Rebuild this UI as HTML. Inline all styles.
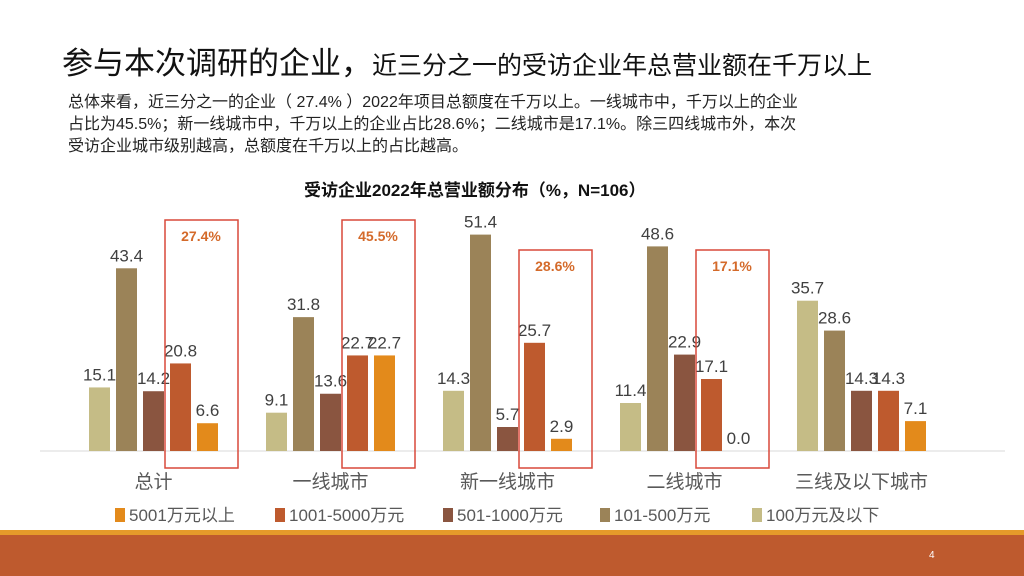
<!DOCTYPE html>
<html><head><meta charset="utf-8"><style>
body{margin:0;width:1024px;height:576px;overflow:hidden;background:#fff;font-family:"Liberation Sans","Noto Sans CJK SC",sans-serif;position:relative}
.t{position:absolute;white-space:nowrap}
</style></head><body>
<div class="t" style="left:62px;top:38px;font-size:31px;color:#111">参与本次调研的企业，<span style="font-size:25px">近三分之一的受访企业年总营业额在千万以上</span></div>
<div class="t" style="left:68px;top:92px;font-size:16px;line-height:22px;color:#222">总体来看，近三分之一的企业（ 27.4% ）2022年项目总额度在千万以上。一线城市中，千万以上的企业<br>占比为45.5%；新一线城市中，千万以上的企业占比28.6%；二线城市是17.1%。除三四线城市外，本次<br>受访企业城市级别越高，总额度在千万以上的占比越高。</div>
<div class="t" style="left:304px;top:176px;font-size:17px;color:#111;font-weight:bold">受访企业2022年总营业额分布（%，N=106）</div>
<svg id="c" width="1024" height="576" style="position:absolute;left:0;top:0"></svg>
<div style="position:absolute;left:0;top:530px;width:1024px;height:5px;background:#E59A2A"></div>
<div style="position:absolute;left:0;top:535px;width:1024px;height:41px;background:#BE5A2E"></div>
<div class="t" style="left:929px;top:550px;font-size:10px;color:#fff">4</div>
<script>
const categories=["总计","一线城市","新一线城市","二线城市","三线及以下城市"];
const seriesNames=["100万元及以下","101-500万元","501-1000万元","1001-5000万元","5001万元以上"];
const s100=[15.1,9.1,14.3,11.4,35.7];
const s500=[43.4,31.8,51.4,48.6,28.6];
const s1000=[14.2,13.6,5.7,22.9,14.3];
const s5000=[20.8,22.7,25.7,17.1,14.3];
const s5001=[6.6,22.7,2.9,0.0,7.1];
const highlight=["27.4%","45.5%","28.6%","17.1%",null];
const colors=["#C5BC86","#9B8358","#8A5540","#BE5A2E","#E38A1B"];
const boxTops=[220,220,250,250];
const series=[s100,s500,s1000,s5000,s5001];
const NS="http://www.w3.org/2000/svg",svg=document.getElementById('c');
const base=451,k=4.21,x0=65,cw=177,bw=21,step=27;
const y=v=>base-v*k;
const cx=i=>x0+cw*(i+0.5);
function mk(t,a){const e=document.createElementNS(NS,t);for(const n in a)e.setAttribute(n,a[n]);svg.appendChild(e);return e;}
let ax=mk('line',{x1:40,x2:1005,y1:base,y2:base,stroke:'#d9d9d9','stroke-width':1});


categories.forEach((c,i)=>{
 series.forEach((s,j)=>{
  const bx=cx(i)+(j-2)*step-bw/2;
  const r=mk('rect',{x:bx,y:y(s[i]),width:bw,height:s[i]*k,fill:colors[j]});
  
  
  const tx=mk('text',{x:bx+bw/2,y:y(s[i])-7,'text-anchor':'middle','font-size':17,fill:'#404040'});
  tx.textContent=s[i].toFixed(1);
  
  
 });
 const cl=mk('text',{x:cx(i),y:488,'text-anchor':'middle','font-size':19,fill:'#595959'});
 cl.textContent=c;
 
 
 if(highlight[i]){
  const top=boxTops[i];
  const bx=cx(i)+step-bw/2-5;
  const hb=mk('rect',{x:bx,y:top,width:73,height:468-top,fill:'none',stroke:'#D9493A','stroke-width':1.5});
  
  
  const ht=mk('text',{x:bx+36,y:top+21,'text-anchor':'middle','font-size':14,'font-weight':'bold',fill:'#D46A2A'});
  ht.textContent=highlight[i];
  
  
 }
});
const order=[4,3,2,1,0],lx=[115,275,443,600,752];
order.forEach((j,n)=>{
 const r=mk('rect',{x:lx[n],y:508,width:10,height:14,fill:colors[j]});
 
 
 const t=mk('text',{x:lx[n]+14,y:521,'font-size':17,fill:'#595959'});
 t.textContent=seriesNames[j];
 
 
});
</script>
</body></html>
